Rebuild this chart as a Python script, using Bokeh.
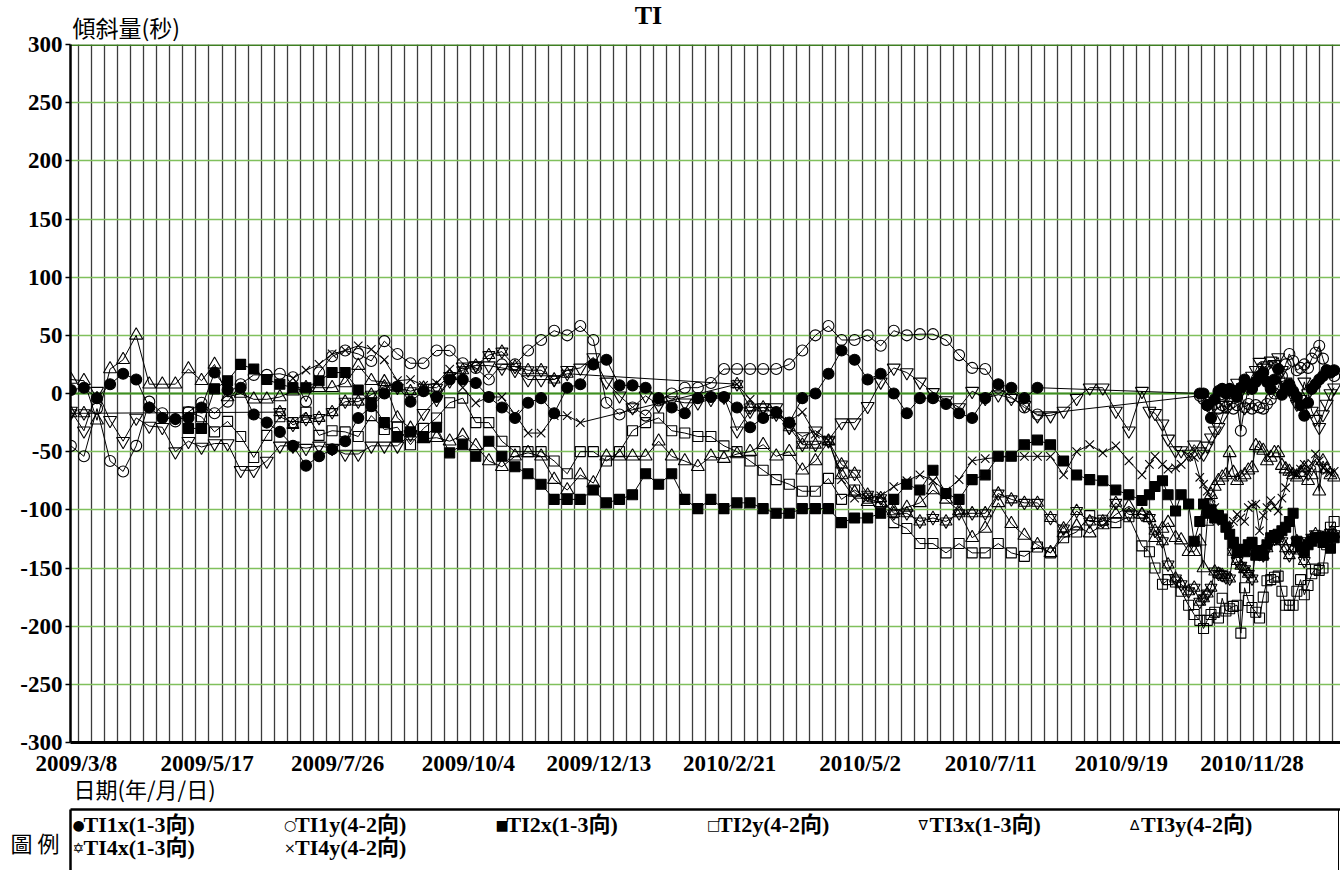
import pandas as pd
from bokeh.plotting import figure
from bokeh.models import Range1d, FixedTicker, Span, ColumnDataSource, GridBox
from bokeh.embed import file_html
from bokeh.resources import INLINE
from bokeh.core.properties import value

# ---------------- data ----------------
# weekly readings (first one at the left edge), then denser readings from Oct 2010
weekly_dates = ["2009-03-05"] + [str(d.date()) for d in pd.date_range("2009-03-12", periods=82, freq="7D")]
dense_dates = ["2010-10-04", "2010-10-07", "2010-10-11", "2010-10-14",
               "2010-10-18", "2010-10-21", "2010-10-25", "2010-10-28"] + \
              [str(d.date()) for d in pd.date_range("2010-10-31", periods=37, freq="2D")]
dates = weekly_dates + dense_dates

N = None
TI1x = [3, 5, -4, 8, 17, 12, -12, -21, -22, -21,
        -12, 18, 3, 5, -18, -25, -33, -45, -62, -54,
        -48, -41, -21, -11, 0, 6, -7, 2, -3, 12,
        12, 9, -3, -12, -21, -8, -4, -17, 5, 8,
        25, 29, 7, 7, 5, -4, -12, -17, -4, -3,
        -3, -12, -29, -21, -16, -25, -4, 0, 17, 37,
        29, 12, 17, 0, -17, -4, -4, -9, -17, -21,
        -4, 8, 5, -4, 5, N, N, N, N, N,
        N, N, N] + \
       [N, N, N, N, N, N, N, N,
        0, 0, -10, -21, -5, 2, 4, 0, 4, 2, -3, 5, 12, 8, 4, 10, 15, 18, 10, 4,
        12, 21, -1, 5, 8, 2, -3, -10, -19, -8, 4, 8, 12, 15, 20, 18, 20]

TI1y = [-45, -54, -13, -58, -67, -45, -7, -17, -24, -16,
        -8, -17, -7, 8, 16, 16, 17, 14, -7, 18,
        32, 37, 34, 28, 45, 34, 26, 26, 37, 37,
        26, 22, 12, 25, 25, 37, 46, 54, 50, 58,
        46, -8, -18, -12, -19, -6, 0, 5, 5, 9,
        21, 21, 21, 21, 21, 25, 37, 50, 58, 46,
        46, 50, 41, 54, 50, 51, 51, 46, 33, 22,
        21, 5, -3, -12, -18, N, N, N, N, N,
        N, N, N] + \
       [N, N, N, N, N, N, N, N,
        -2, -5, -10, -12, -9, -13, -10, -12, -9, -13, -10, -32, -12, -9, -13, -10, -12, -13, -9, -5,
        0, 5, 15, 25, 34, 28, 20, 22, 25, 22, 30, 35, 41, 30, 20, 18, 15]

TI2x = [N, N, N, N, N, N, N, N, N, -30,
        -30, 4, 11, 25, 21, 12, 8, 5, 5, 11,
        18, 18, 3, -8, -25, -37, -33, -37, -29, -51,
        -44, -54, -41, -54, -63, -69, -78, -91, -91, -91,
        -83, -94, -91, -87, -69, -78, -69, -91, -99, -91,
        -99, -94, -94, -99, -103, -103, -99, -99, -99, -111,
        -107, -107, -103, -91, -78, -83, -66, -86, -91, -74,
        -70, -54, -54, -44, -40, -44, -58, -70, -74, -75,
        -83, -87, -92] + \
       [-87, -80, -75, -87, -101, -87, -95, -127,
        -110, -95, -103, -100, -107, -105, -108, -115, -121, -128, -136, -134, -136, -130, -128, -139,
        -135, -139, -130, -124, -122, -121, -118, -115, -110, -103, -127, -132, -136, -130, -127, -124,
        -124, -128, -124, -133, -124]

TI2y = [N, N, N, N, N, N, N, N, N, -16,
        -20, -33, -24, -37, -55, -36, -20, -25, -16, -36,
        -32, -33, -37, -19, -31, -29, -44, -30, -21, -8,
        -4, -25, -25, -41, -50, -50, -50, -58, -69, -50,
        -50, -58, -50, -32, -25, -21, -32, -34, -37, -37,
        -45, -50, -58, -66, -74, -78, -84, -84, -73, -91,
        -83, -90, -94, -111, -116, -129, -129, -137, -129, -137,
        -137, -129, -137, -140, -132, -137, -124, -119, -105, -109,
        -111, -106, -131] + \
       [-136, -150, -164, -160, -162, -170, -182, -190,
        -195, -202, -195, -190, -188, -193, -176, -187, -185, -183, -182, -206, -167, -178, -184, -188,
        -193, -175, -161, -160, -158, -157, -170, -182, -182, -182, -170, -160, -173, -165, -155, -151,
        -152, -150, -130, -115, -110]

TI3x = [-15, -32, 2, -23, -41, -21, -28, -29, -50, -41,
        -46, -43, -43, -66, -66, -58, -45, -45, -47, -45,
        -47, -52, -52, -45, -45, -45, -35, -17, -5, 11,
        23, 24, 24, 22, 20, 12, 12, 12, 20, 22,
        31, 10, -2, -12, -2, -10, -6, -8, -8, -5,
        -3, -32, -15, -12, -12, -29, -37, -32, -40, -25,
        -25, -11, 10, 22, 18, 10, 1, -6, -12, 2,
        -4, -1, -4, -10, -19, -19, -15, -4, 5, 5,
        -15, -32, 2] + \
       [-15, -17, -26, -39, -49, -49, -52, -44,
        -50, -52, -45, -38, -32, -29, -20, -10, -5, 0, 9, 2, -12, 5, 15, 20,
        27, 22, 24, 28, 25, 31, 20, 10, 4, -2, -9, -5, 10, 0, -15, -22,
        -29, -18, -9, 0, 5]

TI3y = [12, 11, -23, 21, 29, 50, 8, 8, 8, 21,
        11, 25, -3, 0, -5, -5, -3, 2, 5, 5,
        5, 9, 24, 11, 10, -21, -30, -39, -38, -41,
        -36, -45, -58, -63, -54, -51, -54, -74, -83, -70,
        -77, -54, -54, -54, -54, -41, -54, -58, -63, -54,
        -56, -52, -50, -44, -54, -50, -66, -58, -41, -70,
        -85, -93, -94, -101, -98, -94, -83, -91, -101, -124,
        -116, -94, -112, -122, -130, -137, -120, -114, -120, -113,
        -104, -97, -104] + \
       [-107, -124, -116, -111, -124, -126, -136, -136,
        -127, -150, -110, -87, -80, -75, -72, -70, -51, -68, -75, -72, -70, -66, -64, -45,
        -47, -49, -58, -55, -51, -51, -62, -65, -67, -70, -72, -68, -64, -75, -70, -64,
        -84, -58, -65, -70, -72]

TI4x = [-17, -17, N, N, N, N, N, N, N, N,
        N, N, N, N, N, N, -16, -27, -22, -21,
        -16, -7, -7, -1, 6, 5, 2, 5, 5, 15,
        20, 24, 33, 36, 23, 20, 20, 12, 17, N,
        N, N, N, N, N, N, N, N, N, N,
        N, 8, -12, -12, -18, -29, -44, -44, -41, -61,
        -69, -87, -90, -103, -103, -110, -107, -110, -103, -103,
        -103, -86, -91, -94, -94, -107, -116, -101, -110, -110,
        -94, -104, -104] + \
       [-107, -118, -127, -147, -159, -164, -170, -167,
        -179, -176, -172, -167, -153, -155, -156, -158, -159, -136, -144, -148, -151, -155, -159, -136,
        -138, -139, -133, -127, -125, -124, -127, -133, -139, -133, -127, -135, -144, -127, -124, -121,
        -123, -124, -122, -120, -121]

TI4y = [N, N, N, N, N, N, N, N, N, N,
        N, N, N, N, N, N, N, 13, 20, 25,
        34, 37, 41, 38, 29, 11, 12, 7, 9, 21,
        5, -8, -3, -3, -18, -34, -34, -19, -19, -25,
        N, N, N, N, N, N, N, N, N, N,
        N, 8, -5, -20, -18, -24, -16, -35, -40, -74,
        -90, -90, -88, -80, -75, -70, -75, -84, -74, -58,
        -56, -55, -54, -54, -54, -54, -70, -50, -44, -51,
        -45, -58, -70] + \
       [-61, -54, -61, -65, -64, -61, -54, -55,
        -72, -78, -84, -90, -98, -104, -110, -113, -117, -110, -104, -107, -110, -98, -96, -95,
        -118, -105, -98, -92, -97, -101, -90, -81, -67, -68, -70, -65, -61, -67, -60, -52,
        -58, -64, -66, -68, -67]

x_tick_labels = ["2009/3/8", "2009/5/17", "2009/7/26", "2009/10/4", "2009/12/13",
                 "2010/2/21", "2010/5/2", "2010/7/11", "2010/9/19", "2010/11/28"]
y_ticks = [-300, -250, -200, -150, -100, -50, 0, 50, 100, 150, 200, 250, 300]

legend_rows = [
    [("●", "TI1x(1-3向)"), ("○", "TI1y(4-2向)"), ("■", "TI2x(1-3向)"),
     ("□", "TI2y(4-2向)"), ("∇", "TI3x(1-3向)"), ("∆", "TI3y(4-2向)")],
    [("✡", "TI4x(1-3向)"), ("×", "TI4y(4-2向)")],
]

# ---------------- helpers ----------------
def ms(s):
    return pd.Timestamp(s).value / 1e6

DAY = 86400000.0
W, H = 1340, 870
BL, BT, FH = 70, 44, 698
BB = H - BT - FH
FW = W - BL
PX_DAY = 1.866
X0 = ms("2009-03-08") - 3.2 * DAY
X1 = X0 + FW / PX_DAY * DAY

xs_all = [ms(d) for d in dates]
for s in (TI1x, TI1y, TI2x, TI2y, TI3x, TI3y, TI4x, TI4y):
    assert len(s) == len(dates), len(s)

def src(vals):
    xs = [x for x, v in zip(xs_all, vals) if v is not None]
    ys = [v for v in vals if v is not None]
    return ColumnDataSource(dict(x=xs, y=ys))

def no_align(f):
    if "frame_align" in f.properties():
        f.frame_align = False

# ---------------- main figure ----------------
p = figure(width=W, height=H, x_range=Range1d(X0, X1), y_range=Range1d(-300, 300),
           output_backend="svg", toolbar_location=None, title_location=None,
           min_border_left=BL, min_border_right=0, min_border_top=BT,
           min_border_bottom=BB)
no_align(p)
p.outline_line_color = None
p.background_fill_color = "white"
p.border_fill_color = "white"

week_ticks = [ms(d) for d in pd.date_range("2009-03-09", "2011-01-20", freq="7D")]
p.xgrid.ticker = FixedTicker(ticks=week_ticks)
p.xgrid.grid_line_color = "#3c3c3c"
p.xgrid.grid_line_width = 1.3
p.ygrid.ticker = FixedTicker(ticks=y_ticks)
p.ygrid.grid_line_color = "#80c05c"
p.ygrid.grid_line_width = 1.6

p.add_layout(Span(location=0, dimension="width", line_color="#3f8f22", line_width=2.2, level="underlay"))
p.add_layout(Span(location=300, dimension="width", line_color="#3f7f22", line_width=3, level="underlay"))

xt = [ms(s.replace("/", "-")) for s in x_tick_labels]
p.xaxis.ticker = FixedTicker(ticks=xt)
p.xaxis.major_label_overrides = {t: lab for t, lab in zip(xt, x_tick_labels)}
p.yaxis.ticker = FixedTicker(ticks=y_ticks)
p.yaxis.major_label_overrides = {t: str(t) for t in y_ticks}

for ax in (p.xaxis[0], p.yaxis[0]):
    ax.major_label_text_font = "Liberation Serif"
    ax.major_label_text_font_style = "bold"
    ax.major_label_text_font_size = "23px"
    ax.major_label_text_color = "black"
    ax.axis_line_color = "black"
    ax.minor_tick_line_color = None
p.xaxis.axis_line_width = 3
p.xaxis.major_tick_line_color = None
p.xaxis.major_label_standoff = 2
p.yaxis.axis_line_width = 2.5
p.yaxis.major_tick_in = 0
p.yaxis.major_tick_out = 5
p.yaxis.major_tick_line_width = 1.5
p.yaxis.major_label_standoff = 3

series = [
    (TI1x, [dict(marker="circle", size=11, fill_color="black")]),
    (TI1y, [dict(marker="circle", size=11, fill_color=None)]),
    (TI2x, [dict(marker="square", size=10, fill_color="black")]),
    (TI2y, [dict(marker="square", size=10, fill_color=None)]),
    (TI3x, [dict(marker="inverted_triangle", size=13, fill_color=None)]),
    (TI3y, [dict(marker="triangle", size=13, fill_color=None)]),
    (TI4x, [dict(marker="triangle", size=12, fill_color=None),
            dict(marker="inverted_triangle", size=12, fill_color=None)]),
    (TI4y, [dict(marker="x", size=12, fill_color=None)]),
]
for vals, marks in series:
    s = src(vals)
    p.line("x", "y", source=s, line_color="black", line_width=1)
    for m in marks:
        p.scatter("x", "y", source=s, line_color="black", line_width=1.1, **m)

# ---------------- transparent overlay with the free texts and the legend ----------------
ov = figure(width=W, height=H, x_range=Range1d(0, W), y_range=Range1d(0, H),
            output_backend="svg", toolbar_location=None, title_location=None,
            x_axis_location=None, y_axis_location=None, min_border=0,
            min_border_left=0, min_border_right=0, min_border_top=0, min_border_bottom=0)
ov.grid.visible = False
ov.outline_line_color = None
ov.background_fill_color = None
ov.border_fill_color = None
no_align(ov)

def py(page_y):
    return H - page_y

ov.text(x=[648], y=[py(14.5)], text=["TI"], text_font=value("Liberation Serif"),
        text_font_style="bold", text_font_size="26px", text_align="center",
        text_baseline="middle", text_color="black")
ov.text(x=[72], y=[py(26)], text=["傾斜量(秒)"], text_font=value("Noto Sans CJK TC"),
        text_font_size="23px", text_align="left", text_baseline="middle", text_color="black")
ov.text(x=[73], y=[py(787)], text=["日期(年/月/日)"], text_font=value("Noto Sans CJK TC"),
        text_font_size="22px", text_align="left", text_baseline="middle", text_color="black")

# legend frame (top and left edges, thin right edge)
ov.segment(x0=[70, 70, 1338], y0=[py(809)] * 3, x1=[W, 70, 1338], y1=[py(809), 0, 0],
           line_color="black", line_width=[2.5, 2.5, 1])
ov.text(x=[10], y=[py(841)], text=["圖 例"], text_font=value("Noto Sans CJK TC"),
        text_font_size="22px", text_baseline="middle", text_align="left", text_color="black")

col_x = [72, 283.5, 495, 706.5, 918, 1129.5]
row_y = [py(824), py(847)]
sym_x, sym_y, sym_t, lab_x, lab_y, lab_t = [], [], [], [], [], []
for r, row in enumerate(legend_rows):
    for c, (sym, lab) in enumerate(row):
        sym_x.append(col_x[c]); sym_y.append(row_y[r]); sym_t.append(sym)
        lab_x.append(col_x[c] + 11); lab_y.append(row_y[r]); lab_t.append(lab)
ov.text(x=sym_x, y=sym_y, text=sym_t, text_font=value("DejaVu Sans"), text_font_size="14px",
        text_baseline="middle", text_align="left", text_color="black")
ov.text(x=lab_x, y=lab_y, text=lab_t, text_font=value("Liberation Serif, Noto Sans CJK TC"),
        text_font_size="22px", text_font_style="bold", text_baseline="middle",
        text_align="left", text_color="black")

layout = GridBox(children=[(p, 0, 0), (ov, 0, 0)], spacing=0)
open("out.html", "w").write(file_html(layout, INLINE))
